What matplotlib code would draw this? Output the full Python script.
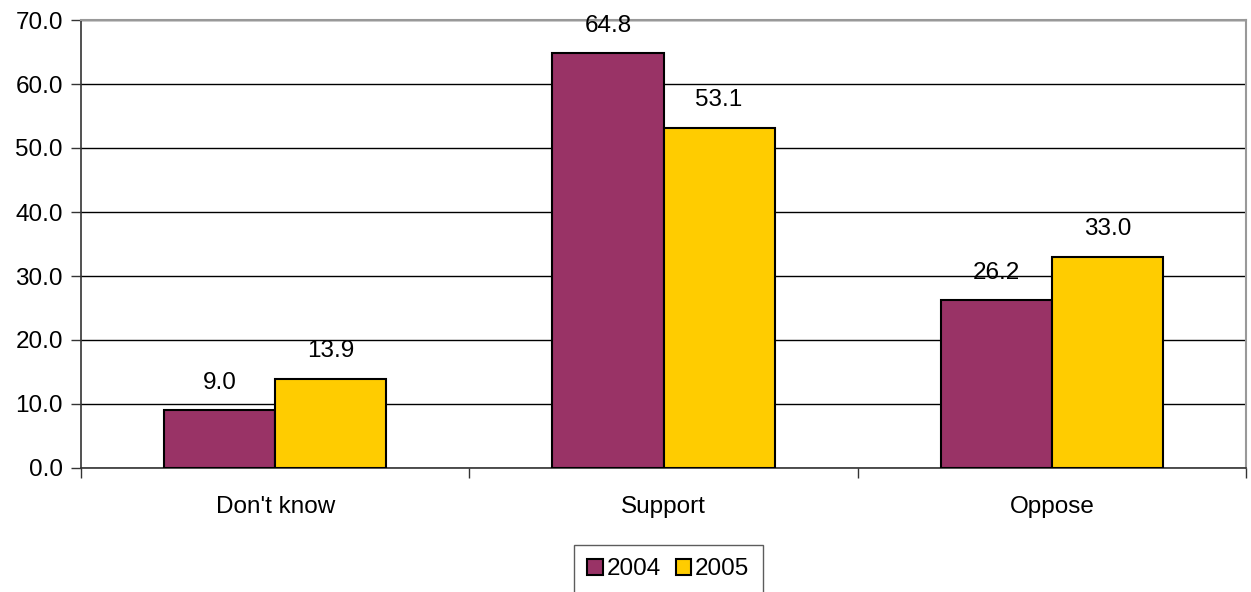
import matplotlib
matplotlib.use("Agg")
import matplotlib.pyplot as plt
import numpy as np

categories = ["Don't know", "Support", "Oppose"]
series_names = ["2004", "2005"]
values_2004 = [9.0, 64.8, 26.2]
values_2005 = [13.9, 53.1, 33.0]
colors = ["#993366", "#FFCC00"]

plt.rcParams['font.family'] = ['Liberation Sans', 'DejaVu Sans']
FS = 17.5

W, H = 1251, 592
fig = plt.figure(figsize=(W/100, H/100), dpi=100)
ax = fig.add_axes([81/W, 1-468/H, (1246-81)/W, (468-20)/H])

x = np.arange(len(categories))
bw = 0.286
for i, (vals, name) in enumerate(zip([values_2004, values_2005], series_names)):
    pos = x + (i - 0.5) * bw
    bars = ax.bar(pos, vals, width=bw, color=colors[i], edgecolor='black', linewidth=1.5, label=name, zorder=3)
    for b, v in zip(bars, vals):
        ax.annotate(f"{v:.1f}", (b.get_x() + b.get_width()/2, v), xytext=(0, 12), textcoords='offset points',
                    ha='center', va='bottom', fontsize=FS)

ax.set_xlim(-0.5, 2.5)
ax.set_ylim(0, 70)
ax.set_yticks(np.arange(0, 71, 10))
ax.set_yticklabels([f"{t:.1f}" for t in np.arange(0, 71, 10)], fontsize=FS)
ax.yaxis.grid(True, color='black', linewidth=1.0, zorder=0)
ax.set_axisbelow(True)

ax.set_xticks([-0.5, 0.5, 1.5, 2.5])
ax.set_xticklabels([])
ax.set_xticks(x, minor=True)
ax.set_xticklabels(categories, minor=True, fontsize=FS)
ax.tick_params(axis='x', which='major', direction='out', length=7, width=1, color='#333333')
ax.tick_params(axis='x', which='minor', length=0, pad=20)
ax.tick_params(axis='y', direction='out', length=7, width=1, color='#333333', pad=6)

for s in ['top', 'right']:
    ax.spines[s].set_color('#999999')
    ax.spines[s].set_linewidth(1.5)
for s in ['left', 'bottom']:
    ax.spines[s].set_color('#333333')
    ax.spines[s].set_linewidth(1.2)

leg = fig.legend(loc='upper left', bbox_to_anchor=(574/W, 1-545/H), ncol=2, fontsize=FS,
                 frameon=True, fancybox=False, edgecolor='#333333', handlelength=0.65, handleheight=0.65,
                 handletextpad=0.15, columnspacing=0.6, borderpad=0.55, borderaxespad=0)
leg.get_frame().set_linewidth(1.0)

fig.savefig("out.png", dpi=100)
